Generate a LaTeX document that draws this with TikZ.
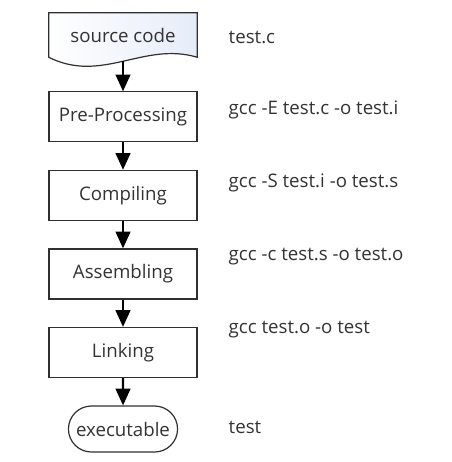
\documentclass[tikz,border=0pt]{standalone}
\usepackage{fontspec}
\setmainfont{Open Sans}
\usetikzlibrary{positioning,arrows.meta,shapes.misc,backgrounds}
\definecolor{boxline}{HTML}{303030}
\definecolor{txtgray}{HTML}{333333}
\definecolor{docfill}{HTML}{E6ECF8}
\begin{document}
\begin{tikzpicture}[
		node distance=20.5pt,
		every node/.style={font=\fontsize{14}{17}\selectfont, text=txtgray, align=center},
		stage/.style={draw=boxline, line width=0.9pt, fill=white, minimum width=111pt, minimum height=37.5pt},
		doc/.style={minimum width=111pt, minimum height=33pt},
		term/.style={draw=boxline, line width=0.9pt, rounded rectangle, fill=white, minimum width=88.5pt, minimum height=34.5pt},
		cmd/.style={anchor=west},
		flow/.style={draw=black, line width=1.6pt, -{Triangle[width=11pt, length=12.5pt]}},
		]
		\useasboundingbox (0,0) rectangle (339pt,-346.5pt);
		% stages
		\node[doc] (src) at (92.25pt,-26.25pt) {source code};
		\begin{scope}[on background layer]
			\draw[boxline, line width=0.9pt, left color=white, right color=docfill]
				(src.south west) -- (src.north west) -- (src.north east) -- (src.south east)
				.. controls +(-40pt,12pt) and +(40pt,-20pt) .. (src.south west) -- cycle;
		\end{scope}
		\node[stage, below=25.5pt of src] (pre) {Pre-Processing};
		\node[stage, below=of pre] (comp) {Compiling};
		\node[stage, below=of comp] (asm) {Assembling};
		\node[stage, below=of asm] (link) {Linking};
		\node[term, below=of link] (exe) {executable};
		% commands
		\node[cmd] (tsrc) at (168pt,-27.75pt) {test.c};
		\node[cmd] (tpre) at (168pt,-82.5pt) {gcc -E test.c -o test.i};
		\node[cmd] (tcomp) at (168pt,-137.25pt) {gcc -S test.i -o test.s};
		\node[cmd] (tasm) at (168pt,-192.75pt) {gcc -c test.s -o test.o};
		\node[cmd] (tlink) at (168pt,-247.5pt) {gcc test.o -o test};
		\node[cmd] (texe) at (168pt,-320.25pt) {test};
		% arrows
		\draw[flow] ([yshift=-3pt]src.south) -- (pre);
		\draw[flow] (pre) -- (comp);
		\draw[flow] (comp) -- (asm);
		\draw[flow] (asm) -- (link);
		\draw[flow] (link) -- (exe);
	\end{tikzpicture}
\end{document}
